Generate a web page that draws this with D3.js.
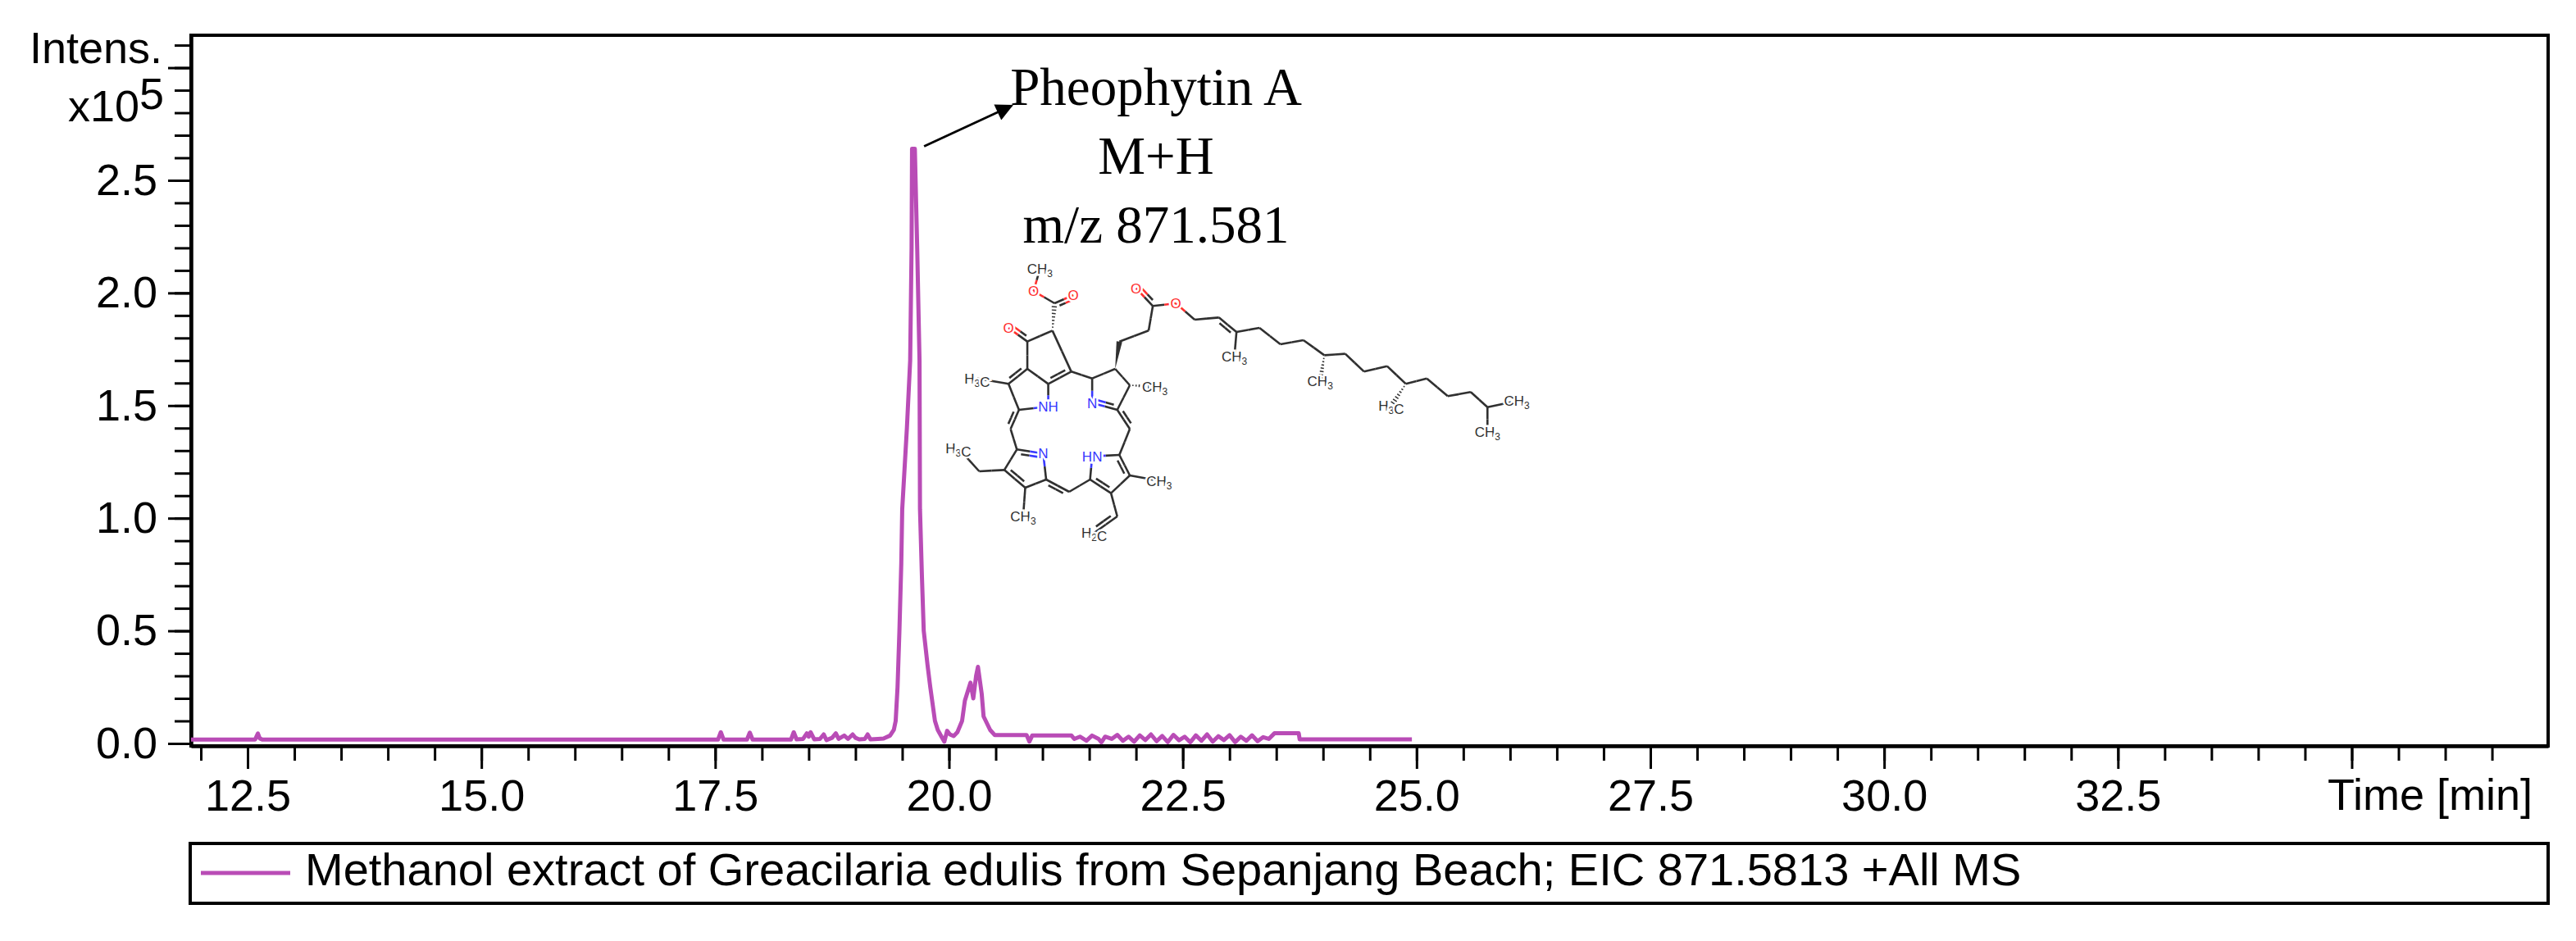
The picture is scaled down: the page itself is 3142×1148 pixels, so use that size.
<!DOCTYPE html>
<html>
  <head>
    <meta charset="utf-8">
    <script src="https://cdnjs.cloudflare.com/ajax/libs/d3/7.8.5/d3.min.js"></script>
    <title>EIC 871.5813 chromatogram</title>
    <style>
      body {
        margin: 0px;
        background: #fff;
      }
      text {
        font-family: "Liberation Sans", Arial, sans-serif;
        fill: #000;
      }
      .tick text {
        font-size: 54px;
      }
      .domain {
        stroke: #000;
        stroke-width: 4;
      }
      .tick line {
        stroke: #000;
        stroke-width: 3;
      }
      .unit {
        font-size: 54px;
      }
      .anno {
        font-family: "Liberation Serif", "Times New Roman", serif;
        font-size: 65px;
        text-anchor: middle;
      }
      .atom {
        font-size: 17px;
        paint-order: stroke;
        stroke: #fff;
        stroke-width: 5px;
      }
    </style>
  </head>
  <body>
    <svg width="3142" height="1148"></svg>
    <script>

      // retention time (min) and intensity (x10^5)
      const traceTime = [
        11.895, 12.58, 12.61, 12.63, 12.66, 17.53, 17.56, 17.59, 17.84, 17.87,
        17.90, 18.31, 18.34, 18.37, 18.44, 18.48, 18.50, 18.52, 18.56, 18.62,
        18.66, 18.69, 18.75, 18.79, 18.82, 18.88, 18.92, 18.97, 19.00, 19.04,
        19.10, 19.13, 19.16, 19.24, 19.30, 19.37, 19.41, 19.43, 19.45, 19.47,
        19.49, 19.50, 19.55, 19.585, 19.60, 19.605, 19.635, 19.66, 19.685, 19.69,
        19.71, 19.73, 19.77, 19.80, 19.85, 19.88, 19.92, 19.95, 19.98, 20.01,
        20.05, 20.09, 20.14, 20.17, 20.23, 20.26, 20.29, 20.31, 20.35, 20.37,
        20.44, 20.49, 20.83, 20.86, 20.89, 21.31, 21.34, 21.40, 21.47, 21.53,
        21.60, 21.63, 21.67, 21.74, 21.80, 21.86, 21.92, 21.98, 22.04, 22.10,
        22.16, 22.22, 22.28, 22.34, 22.40, 22.46, 22.52, 22.58, 22.64, 22.70,
        22.76, 22.82, 22.88, 22.94, 23.00, 23.06, 23.12, 23.18, 23.24, 23.30,
        23.36, 23.42, 23.48, 23.74, 23.75, 24.95
      ];
      const traceIntensity = [
        0.017, 0.017, 0.044, 0.022, 0.017, 0.017, 0.050, 0.017, 0.017, 0.048,
        0.017, 0.017, 0.050, 0.018, 0.020, 0.045, 0.030, 0.050, 0.018, 0.020,
        0.040, 0.015, 0.025, 0.045, 0.020, 0.035, 0.020, 0.040, 0.025, 0.018,
        0.020, 0.040, 0.018, 0.020, 0.022, 0.035, 0.060, 0.100, 0.250, 0.500,
        0.800, 1.040, 1.400, 1.700, 2.200, 2.640, 2.640, 2.200, 1.700, 1.040,
        0.750, 0.500, 0.350, 0.250, 0.100, 0.060, 0.030, 0.008, 0.056, 0.040,
        0.033, 0.050, 0.100, 0.190, 0.270, 0.200, 0.300, 0.340, 0.220, 0.120,
        0.060, 0.037, 0.037, 0.008, 0.035, 0.035, 0.020, 0.030, 0.012, 0.035,
        0.020, 0.005, 0.030, 0.020, 0.038, 0.012, 0.030, 0.008, 0.036, 0.015,
        0.040, 0.010, 0.033, 0.006, 0.038, 0.014, 0.030, 0.005, 0.036, 0.012,
        0.040, 0.008, 0.032, 0.015, 0.037, 0.006, 0.030, 0.012, 0.036, 0.010,
        0.028, 0.020, 0.045, 0.045, 0.018, 0.018
      ];

      const xMajorTicks = [12.5, 15.0, 17.5, 20.0, 22.5, 25.0, 27.5, 30.0, 32.5, 35.0];
      const xTickLabels = ['12.5', '15.0', '17.5', '20.0', '22.5', '25.0', '27.5', '30.0', '32.5', ''];
      const yMajorTicks = [0.0, 0.5, 1.0, 1.5, 2.0, 2.5, 3.0];
      const yTickLabels = ['0.0', '0.5', '1.0', '1.5', '2.0', '2.5', ''];

      const seriesName = 'Methanol extract of Greacilaria edulis from Sepanjang Beach; EIC 871.5813 +All MS';
      const annoLines = ['Pheophytin A', 'M+H', 'm/z 871.581'];
      const peakTime = 19.62;
      const peakIntensity = 2.64;
      const traceColor = '#b94cb6';

      // pheophytin a skeleton, in the units of the drawing it was traced from
      const molAtoms = [
        ['C1', 300, 380, 'C'], ['O1', 255, 330, 'O', 'O'], ['C2', 360, 340, 'C'],
        ['C3', 365, 240, 'C'], ['O2', 410, 210, 'O', 'O'], ['O3', 315, 195, 'O', 'O'],
        ['Me1', 330, 115, 'C', 'CH3'], ['C4', 405, 490, 'C'],
        ['A1', 300, 480, 'C'], ['A2', 255, 535, 'C'], ['A2m', 180, 515, 'C', 'H3C'],
        ['A3', 280, 630, 'C'], ['AN', 350, 618, 'N', 'NH'], ['A4', 350, 535, 'C'],
        ['M1', 260, 700, 'C'],
        ['B1', 275, 775, 'C'], ['BN', 338, 790, 'N', 'N'], ['B2', 345, 885, 'C'],
        ['B3', 295, 915, 'C'], ['B3m', 290, 1020, 'C', 'CH3'], ['B4', 245, 850, 'C'],
        ['B4e', 185, 855, 'C'], ['B4m', 135, 770, 'C', 'H3C'],
        ['M2', 400, 930, 'C'],
        ['D1', 450, 885, 'C'], ['DN', 455, 800, 'N', 'HN'], ['D2', 520, 795, 'C'],
        ['D3', 545, 870, 'C'], ['D3m', 615, 890, 'C', 'CH3'], ['D4', 500, 935, 'C'],
        ['D4v', 515, 1020, 'C'], ['D4t', 460, 1080, 'C', 'H2C'],
        ['M3', 545, 700, 'C'],
        ['C5', 515, 630, 'C'], ['CN', 455, 605, 'N', 'N'], ['C6', 455, 515, 'C'],
        ['C7', 510, 480, 'C'], ['C8', 545, 540, 'C'], ['C8m', 605, 545, 'C', 'CH3'],
        ['P1', 520, 380, 'C'], ['P2', 590, 340, 'C'], ['P3', 600, 250, 'C'],
        ['P3a', 560, 185, 'O', 'O'], ['P3b', 655, 240, 'O', 'O'],
        ['Q1', 700, 300, 'C'], ['Q2', 758, 292, 'C'], ['Q3', 800, 345, 'C'],
        ['Q3m', 795, 435, 'C', 'CH3'], ['Q4', 855, 330, 'C'], ['Q5', 905, 390, 'C'],
        ['Q6', 960, 375, 'C'], ['Q7', 1010, 430, 'C'], ['Q7m', 1000, 525, 'C', 'CH3'],
        ['Q8', 1060, 425, 'C'], ['Q9', 1105, 490, 'C'], ['Q10', 1160, 470, 'C'],
        ['Q11', 1205, 535, 'C'], ['Q11m', 1170, 615, 'C', 'H3C'], ['Q12', 1255, 515, 'C'],
        ['Q13', 1305, 580, 'C'], ['Q14', 1360, 565, 'C'], ['Q15', 1400, 620, 'C'],
        ['Q15a', 1470, 598, 'C', 'CH3'], ['Q15b', 1400, 710, 'C', 'CH3']
      ];
      // bond kinds: 1 single, 2 double, 'w' wedge, 'h' hashed
      const molBonds = [
        ['C1', 'O1', 2], ['C1', 'C2', 1], ['C2', 'C3', 'h'], ['C3', 'O2', 2], ['C3', 'O3', 1],
        ['O3', 'Me1', 1], ['C2', 'C4', 1], ['C1', 'A1', 1], ['A1', 'A2', 2], ['A2', 'A2m', 1],
        ['A2', 'A3', 1], ['A3', 'AN', 1], ['AN', 'A4', 1], ['A4', 'A1', 1], ['C4', 'A4', 2],
        ['C4', 'C6', 1], ['A3', 'M1', 2], ['M1', 'B1', 1], ['B1', 'BN', 2], ['BN', 'B2', 1],
        ['B2', 'B3', 1], ['B3', 'B4', 2], ['B4', 'B1', 1], ['B3', 'B3m', 1], ['B4', 'B4e', 1],
        ['B4e', 'B4m', 1], ['B2', 'M2', 2], ['M2', 'D1', 1], ['D1', 'DN', 1], ['DN', 'D2', 1],
        ['D2', 'D3', 2], ['D3', 'D4', 1], ['D4', 'D1', 2], ['D3', 'D3m', 1], ['D4', 'D4v', 1],
        ['D4v', 'D4t', 2], ['D2', 'M3', 1], ['M3', 'C5', 2], ['C5', 'CN', 2], ['CN', 'C6', 1],
        ['C6', 'C7', 1], ['C7', 'C8', 1], ['C8', 'C5', 1], ['C8', 'C8m', 'h'], ['C7', 'P1', 'w'],
        ['P1', 'P2', 1], ['P2', 'P3', 1], ['P3', 'P3a', 2], ['P3', 'P3b', 1], ['P3b', 'Q1', 1],
        ['Q1', 'Q2', 1], ['Q2', 'Q3', 2], ['Q3', 'Q3m', 1], ['Q3', 'Q4', 1], ['Q4', 'Q5', 1],
        ['Q5', 'Q6', 1], ['Q6', 'Q7', 1], ['Q7', 'Q7m', 'h'], ['Q7', 'Q8', 1], ['Q8', 'Q9', 1],
        ['Q9', 'Q10', 1], ['Q10', 'Q11', 1], ['Q11', 'Q11m', 'h'], ['Q11', 'Q12', 1],
        ['Q12', 'Q13', 1], ['Q13', 'Q14', 1], ['Q14', 'Q15', 1], ['Q15', 'Q15a', 1], ['Q15', 'Q15b', 1]
      ];

      const svg = d3.select('svg');

      const xScale = d3.scaleLinear()
        .domain([11.895, 37.1])
        .range([233, 3108]);
      const yScale = d3.scaleLinear()
        .domain([-0.011, 3.144])
        .range([910, 43]);

      const [x0, x1] = xScale.range();
      const [y0, y1] = yScale.range();

      // axes: minor ticks first, majors with labels on top
      svg.append('g')
          .attr('transform', `translate(0,${y0})`)
          .call(d3.axisBottom(xScale)
            .tickValues(d3.range(12.0, 36.51, 0.5))
            .tickSize(18).tickSizeOuter(0).tickFormat(''));
      svg.append('g')
          .attr('transform', `translate(0,${y0})`)
          .call(d3.axisBottom(xScale)
            .tickValues(xMajorTicks)
            .tickSize(28).tickSizeOuter(0).tickPadding(13)
            .tickFormat((d, i) => xTickLabels[i]));

      svg.append('g')
          .attr('transform', `translate(${x0},0)`)
          .call(d3.axisLeft(yScale)
            .tickValues(d3.range(0, 3.11, 0.1))
            .tickSize(20).tickSizeOuter(0).tickFormat(''));
      svg.append('g')
          .attr('transform', `translate(${x0},0)`)
          .call(d3.axisLeft(yScale)
            .tickValues(yMajorTicks)
            .tickSize(28).tickSizeOuter(0).tickPadding(13)
            .tickFormat((d, i) => yTickLabels[i]));

      svg.append('rect')
          .attr('x', x0)
          .attr('y', y1)
          .attr('width', x1 - x0)
          .attr('height', y0 - y1)
          .attr('fill', 'none')
          .attr('stroke', '#000')
          .attr('stroke-width', 4);

      svg.append('text')
          .attr('class', 'unit')
          .attr('x', 198)
          .attr('y', 77)
          .attr('text-anchor', 'end')
          .text('Intens.');
      const unitText = svg.append('text')
          .attr('class', 'unit')
          .attr('x', 200)
          .attr('y', 148)
          .attr('text-anchor', 'end');
      unitText.append('tspan').text('x10');
      unitText.append('tspan').attr('dy', -15).text('5');

      svg.append('text')
          .attr('class', 'unit')
          .attr('x', 3089)
          .attr('y', 988)
          .attr('text-anchor', 'end')
          .text('Time [min]');

      // trace
      const line = d3.line()
        .x(i => xScale(traceTime[i]))
        .y(i => yScale(traceIntensity[i]));

      svg.append('path')
          .attr('d', line(d3.range(traceTime.length)))
          .attr('fill', 'none')
          .attr('stroke', traceColor)
          .attr('stroke-width', 5)
          .attr('stroke-linejoin', 'round');

      // annotation
      svg.append('defs').append('marker')
          .attr('id', 'head')
          .attr('viewBox', '0 0 10 10')
          .attr('refX', 9)
          .attr('refY', 5)
          .attr('markerWidth', 9)
          .attr('markerHeight', 7)
          .attr('markerUnits', 'strokeWidth')
          .attr('orient', 'auto')
        .append('path')
          .attr('d', 'M0,0 L10,5 L0,10 Z')
          .attr('fill', '#000');

      svg.append('line')
          .attr('x1', xScale(peakTime) + 13)
          .attr('y1', yScale(peakIntensity) - 3)
          .attr('x2', 1234)
          .attr('y2', 129)
          .attr('stroke', '#000')
          .attr('stroke-width', 3)
          .attr('marker-end', 'url(#head)');

      svg.selectAll('.anno').data(annoLines)
        .enter().append('text')
          .attr('class', 'anno')
          .attr('x', 1410)
          .attr('y', (d, i) => 128 + i * 84)
          .text(d => d);

      // structure drawing
      const mx = d3.scaleLinear().domain([0, 1568]).range([1100, 1900]);
      const my = d3.scaleLinear().domain([0, 1350]).range([290, 740]);
      const atomColor = { C: '#303030', O: '#ff3030', N: '#3838ff' };
      const atomById = new Map(molAtoms.map(a => [a[0], a]));
      const bondWidth = 2.6;

      const mol = svg.append('g');
      molBonds.forEach(([ia, ib, kind]) => {
        const a = atomById.get(ia), b = atomById.get(ib);
        const ax = mx(a[1]), ay = my(a[2]), bx = mx(b[1]), by = my(b[2]);
        const len = Math.hypot(bx - ax, by - ay);
        const nx = -(by - ay) / len, ny = (bx - ax) / len;
        if (kind === 'w') {
          mol.append('path')
              .attr('d', `M${ax},${ay} L${bx + nx * 3.5},${by + ny * 3.5} L${bx - nx * 3.5},${by - ny * 3.5} Z`)
              .attr('fill', atomColor.C);
          return;
        }
        if (kind === 'h') {
          d3.range(1, 8).forEach(k => {
            const t = k / 8, w = 0.5 + 3 * t;
            const px = ax + (bx - ax) * t, py = ay + (by - ay) * t;
            mol.append('line')
                .attr('x1', px - nx * w).attr('y1', py - ny * w)
                .attr('x2', px + nx * w).attr('y2', py + ny * w)
                .attr('stroke', atomColor.C)
                .attr('stroke-width', 1.5);
          });
          return;
        }
        const midX = (ax + bx) / 2, midY = (ay + by) / 2;
        const segs = [[ax, ay, midX, midY, a[3]], [midX, midY, bx, by, b[3]]];
        segs.forEach(s => {
          mol.append('line')
              .attr('x1', s[0]).attr('y1', s[1])
              .attr('x2', s[2]).attr('y2', s[3])
              .attr('stroke', atomColor[s[4]])
              .attr('stroke-width', bondWidth);
        });
        if (kind === 2) {
          const off = 5, sh = 0.18;
          const sx = ax + (bx - ax) * sh + nx * off, sy = ay + (by - ay) * sh + ny * off;
          const ex = bx - (bx - ax) * sh + nx * off, ey = by - (by - ay) * sh + ny * off;
          const cx = (sx + ex) / 2, cy = (sy + ey) / 2;
          mol.append('line').attr('x1', sx).attr('y1', sy).attr('x2', cx).attr('y2', cy)
              .attr('stroke', atomColor[a[3]]).attr('stroke-width', bondWidth);
          mol.append('line').attr('x1', cx).attr('y1', cy).attr('x2', ex).attr('y2', ey)
              .attr('stroke', atomColor[b[3]]).attr('stroke-width', bondWidth);
        }
      });

      molAtoms.filter(a => a[4]).forEach(a => {
        const t = mol.append('text')
            .attr('class', 'atom')
            .attr('x', mx(a[1]))
            .attr('y', my(a[2]) + 6)
            .attr('text-anchor', 'middle')
            .style('fill', atomColor[a[3]]);
        a[4].split(/(\d)/).filter(s => s).forEach(part => {
          if (/\d/.test(part)) {
            t.append('tspan').attr('dy', 4).style('font-size', '12px').text(part);
            t.append('tspan').attr('dy', -4).text('');
          } else {
            t.append('tspan').text(part);
          }
        });
      });

      // legend
      const legend = svg.append('g');
      legend.append('rect')
          .attr('x', 232)
          .attr('y', 1029)
          .attr('width', 3108 - 232)
          .attr('height', 73)
          .attr('fill', 'none')
          .attr('stroke', '#000')
          .attr('stroke-width', 4);
      legend.append('line')
          .attr('x1', 245)
          .attr('x2', 354)
          .attr('y1', 1065)
          .attr('y2', 1065)
          .attr('stroke', traceColor)
          .attr('stroke-width', 5);
      legend.append('text')
          .attr('x', 372)
          .attr('y', 1080)
          .style('font-size', '56px')
          .text(seriesName);
    </script>
  </body>
</html>
